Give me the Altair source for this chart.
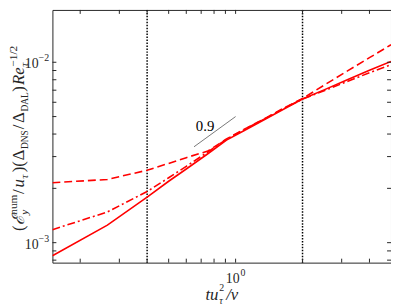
import altair as alt
import pandas as pd

# ---------------- data ----------------
x_vals = [0.15, 0.265, 0.4, 0.5, 0.6, 0.75, 0.91, 1.1, 1.37, 1.65, 2.0, 2.5, 3.2, 4.0, 5.0]
y_solid = [8.46e-4, 1.25e-3, 1.79e-3, 2.19e-3, 2.56e-3, 3.11e-3, 3.70e-3, 4.20e-3,
           4.86e-3, 5.51e-3, 6.25e-3, 7.03e-3, 8.02e-3, 9.03e-3, 1.01e-2]
y_dashdot = [1.18e-3, 1.48e-3, 1.92e-3, 2.29e-3, 2.65e-3, 3.18e-3, 3.74e-3, 4.25e-3,
             4.90e-3, 5.55e-3, 6.25e-3, 6.95e-3, 7.85e-3, 8.75e-3, 9.70e-3]
y_dashed = [2.15e-3, 2.24e-3, 2.52e-3, 2.75e-3, 2.96e-3, 3.22e-3, 3.76e-3, 4.27e-3,
            4.92e-3, 5.58e-3, 6.30e-3, 7.46e-3, 8.98e-3, 1.06e-2, 1.25e-2]

vlines_x = [0.4, 2.0]
slope_x = [0.65, 1.0]
slope_y = [3.40e-3, 5.00e-3]
slope_label = "0.9"
slope_label_pos = (0.729, 4.42e-3)

x_ticks = [0.2, 0.3, 0.4, 0.5, 0.6, 0.7, 0.8, 0.9, 1.0, 2.0, 3.0, 4.0]
y_ticks = [8e-4, 9e-4, 1e-3, 2e-3, 3e-3, 4e-3, 5e-3, 6e-3, 7e-3, 8e-3, 9e-3, 1e-2]
x_major = [(1.0, "0")]
y_major = [(1e-2, "\u22122"), (1e-3, "\u22123")]

X_DOMAIN = [0.15, 5.0]
Y_DOMAIN = [7.75e-4, 1.95e-2]

W, H = 343, 256
FONT = "Liberation Serif"
RED = "#ff0000"
FRAME = "#262626"

xs = alt.Scale(type="log", domain=X_DOMAIN, nice=False)
ys = alt.Scale(type="log", domain=Y_DOMAIN, nice=False)
X = lambda f="x": alt.X(f"{f}:Q", scale=xs, axis=None)
Y = lambda f="y": alt.Y(f"{f}:Q", scale=ys, axis=None)

def series(yv):
    return pd.DataFrame({"x": x_vals, "y": yv})

solid = alt.Chart(series(y_solid)).mark_line(color=RED, strokeWidth=1.6, clip=True).encode(x=X(), y=Y())
dashdot = alt.Chart(series(y_dashdot)).mark_line(color=RED, strokeWidth=1.6, strokeDash=[8, 3, 2, 3], clip=True).encode(x=X(), y=Y())
dashed = alt.Chart(series(y_dashed)).mark_line(color=RED, strokeWidth=1.6, strokeDash=[8, 4], clip=True).encode(x=X(), y=Y())

vl = alt.Chart(pd.DataFrame({"x": vlines_x})).mark_rule(color="black", strokeWidth=1.5, strokeDash=[1.5, 1.5]).encode(
    x=X(), y=alt.value(0), y2=alt.value(H))

slope = alt.Chart(pd.DataFrame({"x": slope_x, "y": slope_y})).mark_line(color="#555555", strokeWidth=0.8).encode(x=X(), y=Y())
slope_txt = alt.Chart(pd.DataFrame({"x": [slope_label_pos[0]], "y": [slope_label_pos[1]], "t": [slope_label]})).mark_text(
    font=FONT, fontSize=15, color="black", align="center", baseline="middle").encode(x=X(), y=Y(), text="t:N")

# inward ticks on all four sides
xt = pd.DataFrame({"x": x_ticks})
yt = pd.DataFrame({"y": y_ticks})
tick_len = 4
tb = alt.Chart(xt).mark_rule(color=FRAME, strokeWidth=1).encode(x=X(), y=alt.value(H), y2=alt.value(H - tick_len))
tt = alt.Chart(xt).mark_rule(color=FRAME, strokeWidth=1).encode(x=X(), y=alt.value(0), y2=alt.value(tick_len))
tl = alt.Chart(yt).mark_rule(color=FRAME, strokeWidth=1).encode(y=Y(), x=alt.value(0), x2=alt.value(tick_len))
tr = alt.Chart(yt).mark_rule(color=FRAME, strokeWidth=1).encode(y=Y(), x=alt.value(W), x2=alt.value(W - tick_len))

# tick labels 10^k
xl = pd.DataFrame({"x": [v for v, _ in x_major], "e": [e for _, e in x_major], "b": ["10"] * len(x_major)})
xlab_base = alt.Chart(xl).mark_text(font=FONT, fontSize=14, color=FRAME, align="right", baseline="alphabetic", dx=4).encode(
    x=X(), y=alt.value(H + 21), text="b:N")
xlab_exp = alt.Chart(xl).mark_text(font=FONT, fontSize=10, color=FRAME, align="left", baseline="alphabetic", dx=5).encode(
    x=X(), y=alt.value(H + 14), text="e:N")
yl = pd.DataFrame({"y": [v for v, _ in y_major], "e": [e for _, e in y_major], "b": ["10"] * len(y_major)})
ylab_base = alt.Chart(yl).mark_text(font=FONT, fontSize=14, color=FRAME, align="right", baseline="middle", dy=2).encode(
    y=Y(), x=alt.value(-14), text="b:N")
ylab_exp = alt.Chart(yl).mark_text(font=FONT, fontSize=10, color=FRAME, align="left", baseline="alphabetic", dy=-1).encode(
    y=Y(), x=alt.value(-14), text="e:N")

# ---------- axis titles composed of pieces (sub/superscripts) ----------
# y title, rotated; pieces: (text, style, size, level, advance)
yt_pieces = [
    ("(", "normal", 17, 0, 6.0),
    ("\u2130", "italic", 17, 0, 10.5),
    ("num", "normal", 11.5, 1, 0),
    ("y", "italic", 11.5, -1, 21.0),
    ("/", "normal", 17, 0, 6.5),
    ("u", "italic", 17, 0, 9.0),
    ("\u03c4", "italic", 11.5, -1, 6.5),
    (")(", "normal", 17, 0, 12.0),
    ("\u0394", "normal", 17, 0, 11.5),
    ("DNS", "normal", 9.5, -1, 20.0),
    ("/", "normal", 17, 0, 6.5),
    ("\u0394", "normal", 17, 0, 11.5),
    ("DAL", "normal", 9.5, -1, 20.0),
    (")", "normal", 17, 0, 7.0),
    ("Re", "italic", 17, 0, 18.5),
    ("\u03c4", "italic", 11.5, -1, 0),
    ("\u22121/2", "normal", 11.5, 1, 22.0),
]
base_x = {0: 24 - 53, 1: 17 - 53, -1: 28 - 53}
pos = 232 - 8
rows = []
for t, st, sz, lvl, adv in yt_pieces:
    rows.append({"t": t, "st": st, "sz": sz, "px": base_x[lvl], "py": pos})
    pos -= adv
ytitle_layers = []
for r in rows:
    ytitle_layers.append(
        alt.Chart(pd.DataFrame({"t": [r["t"]]})).mark_text(
            font=FONT, fontSize=r["sz"], fontStyle=r["st"], color=FRAME, angle=270,
            align="left", baseline="alphabetic").encode(
            x=alt.value(r["px"]), y=alt.value(r["py"]), text="t:N"))

# x title: t u_tau^2 / nu
xt_pieces = [
    ("tu", "italic", 17, 208, 302),
    ("2", "normal", 10, 222, 293),
    ("\u03c4", "italic", 10, 222, 306),
    ("/\u03bd", "italic", 17, 229, 302),
]
xtitle_layers = []
for t, st, sz, px, py in xt_pieces:
    xtitle_layers.append(
        alt.Chart(pd.DataFrame({"t": [t]})).mark_text(
            font=FONT, fontSize=sz, fontStyle=st, color=FRAME, align="left", baseline="alphabetic").encode(
            x=alt.value(px - 53), y=alt.value(py - 8), text="t:N"))

chart = alt.layer(
    vl, dashed, dashdot, solid, slope, slope_txt,
    tb, tt, tl, tr, xlab_base, xlab_exp, ylab_base, ylab_exp,
    *ytitle_layers, *xtitle_layers
).properties(
    width=W, height=H,
    autosize=alt.AutoSizeParams(type="none"),
    padding={"left": 45, "top": 0, "right": 0, "bottom": 44},
).configure_view(stroke=FRAME, strokeWidth=1)

chart.save("out.html", embed_options={"renderer": "svg", "actions": False})
